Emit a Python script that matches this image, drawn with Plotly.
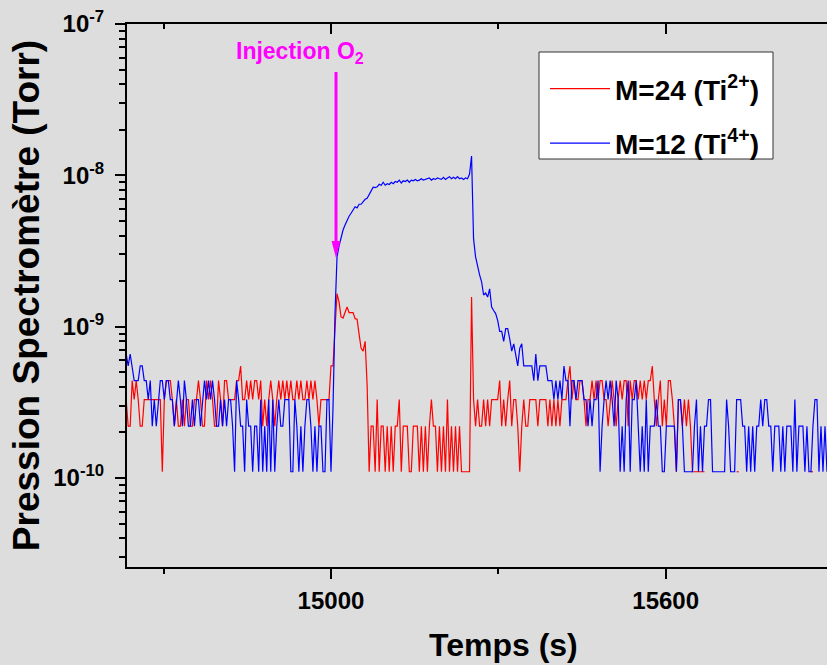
import plotly.graph_objects as go

# ---------------- data ----------------
UNIT = 1.1e-10        # spectrometer reading quantum (Torr): noisy parts are counts of it
T_INJ = 15000.0       # O2 injection time (s)
DT = 3.6              # sampling interval (s)

# M=12 (Ti4+) -- blue
m12_before = [6, 5, 6, 5, 4, 4, 4, 5, 5, 4, 4, 3, 4, 2, 3, 2, 3, 4, 4, 3,
              4, 4, 3, 3, 2, 3, 4, 3, 2, 4, 3, 2, 2, 3, 2, 3, 3, 2, 3, 4,
              3, 4, 3, 4, 3, 2, 2, 3, 2,
              3, 2, 3, 3, 2, 1, 4, 3, 2, 2, 1, 3, 2, 2, 1, 2, 2, 1, 3, 1,
              2, 1, 3, 1, 3, 1, 2, 3, 2, 2, 3, 3, 3, 1, 1, 3, 2, 1, 2, 1,
              2, 3, 3, 2, 1, 2, 1, 2, 2, 1, 1, 3, 3]
m12_rise = [1.1e-10, 2.9e-10, 1.22e-9, 2.89e-9, 3.41e-9, 3.91e-9, 4.35e-9, 4.69e-9, 5.06e-9, 5.37e-9,
            5.62e-9, 5.89e-9, 6.2e-9, 6.1e-9, 6.44e-9, 6.44e-9, 6.74e-9, 6.95e-9, 7.05e-9, 7.5e-9,
            8.0e-9, 8.34e-9, 8.3e-9, 8.4e-9, 8.73e-9, 8.6e-9, 9.0e-9, 8.6e-9, 8.8e-9, 8.7e-9,
            9.0e-9, 8.8e-9, 9.1e-9, 9.0e-9, 9.3e-9, 8.9e-9, 9.2e-9, 9.1e-9, 9.3e-9, 9.0e-9,
            9.3e-9, 9.2e-9, 9.4e-9, 9.2e-9, 9.3e-9, 9.5e-9, 9.3e-9, 9.4e-9, 9.4e-9, 9.6e-9,
            9.3e-9, 9.5e-9, 9.4e-9, 9.6e-9, 9.5e-9, 9.4e-9, 9.7e-9, 9.4e-9, 9.6e-9, 9.8e-9,
            9.5e-9, 9.7e-9, 9.5e-9, 9.8e-9, 9.5e-9, 9.6e-9, 9.4e-9, 9.6e-9, 9.5e-9, 1.02e-8]
m12_peak = [1.34e-8]
m12_decay = [3.8e-9, 2.89e-9, 2.48e-9, 2.2e-9, 1.98e-9, 1.62e-9, 1.67e-9, 1.57e-9, 1.78e-9, 1.35e-9,
             1.28e-9, 1.22e-9, 1.1e-9, 9.3e-10, 9.3e-10, 8.0e-10, 9.7e-10, 9.7e-10, 8.3e-10, 6.9e-10,
             7.7e-10, 6.6e-10, 5.5e-10, 7.2e-10, 7.7e-10, 5.5e-10, 5.5e-10, 5.5e-10, 5.5e-10, 5.5e-10,
             4.4e-10, 6.6e-10, 4.4e-10, 5.5e-10, 5.5e-10, 5.5e-10, 5.5e-10, 4.4e-10, 4.4e-10, 4.4e-10,
             3.3e-10, 4.4e-10, 3.3e-10, 4.4e-10, 3.3e-10, 5.5e-10, 4.4e-10]
m12_tail = [4, 2, 4, 4, 3, 4, 4, 4, 3, 3, 2, 3, 2, 3, 3, 4, 1, 2, 3, 4,
            3, 4, 3, 2, 4, 3, 1, 2, 1, 3, 4, 1, 3, 3, 4, 2, 1, 2, 1,
            3, 1, 2, 2, 2, 3, 2, 2, 1, 1, 2, 2, 2, 2, 2, 1, 3, 3, 2, 1,
            1, 1, 1, 1, 2, 3, 1, 2, 1, 2, 2, 3, 3, 1, 1, 1, 1, 1, 1, 1,
            3, 2, 1, 1, 1, 3, 3, 3, 2, 2, 1, 2, 1, 2, 1, 2, 2, 3, 2, 3,
            3, 2, 2, 1, 2, 2, 2, 1, 2, 1, 2, 2, 2, 1, 3, 1, 2, 2, 2, 1,
            2, 1, 1, 2, 3, 3, 1, 2, 1, 2, 1, 2]

# M=24 (Ti2+) -- red  (0 = below detection, not drawn)
m24_before = [3, 2, 2, 4, 3, 4, 3, 2, 2, 3, 3, 3, 3, 3, 3, 3, 3, 3, 1, 3,
              4, 4, 4, 3, 2, 3, 2, 2, 3, 2, 3, 3, 2, 2, 3, 3, 4, 3, 2, 2,
              4, 3, 4, 3, 2, 2, 4, 3, 2, 4, 4, 3,
              3, 3, 3, 4, 4, 5, 3, 3, 4, 3, 4, 3, 4, 4, 3, 4, 2, 3, 2, 3,
              4, 3, 2, 3, 4, 3, 4, 3, 4, 3, 4, 3, 3, 4, 3, 4, 3, 3, 4, 3,
              4, 3, 4, 3, 2, 3, 3, 3, 3, 3]
m24_burst = [5.5e-10, 5.5e-10, 9.7e-10, 1.65e-9, 1.46e-9, 1.16e-9, 1.14e-9, 1.26e-9, 1.35e-9, 1.24e-9,
             1.24e-9, 1.24e-9, 1.13e-9, 1.12e-9, 8.9e-10, 7.2e-10, 6.9e-10, 8.0e-10, 4.1e-10]
m24_low = [1, 2, 2, 1, 3, 1, 2, 2, 1, 2, 1, 2, 1, 2, 2, 3, 1, 2, 2, 2,
           1, 1, 2, 2, 2, 1, 2, 1, 2, 1, 2, 3, 2, 2, 1, 2, 1, 2, 1, 3,
           1, 2, 1, 2, 1, 2, 1, 1, 1, 1, 1]
m24_spike = [1.57e-9]
m24_after = [3, 2, 3, 2, 2, 3, 2, 3, 2, 3, 3, 3, 3, 4, 2, 3, 2, 3, 4, 2,
             3, 3, 2, 1, 2, 3, 2, 2, 3, 3, 3, 3, 2, 3, 3, 3, 3, 2, 3, 2,
             3, 2, 3, 2, 3, 3, 3, 4, 5, 3, 4, 3, 3, 4, 4, 3, 2, 3, 3, 4,
             3, 4, 3, 4, 4, 3, 3, 2, 3, 4, 3, 2, 3, 4, 3, 4, 4, 2, 4, 3,
             4, 4, 3, 4, 3, 4, 3, 4, 4, 5, 3, 2, 3, 4, 2, 3, 2, 4, 4, 3,
             2, 1, 3, 3, 2, 3, 2, 3, 2, 1, 1, 1, 1, 1, 1, 1,
             0, 0, 0, 0, 0, 0, 0, 0, 0, 0, 0, 0, 0, 0, 0, 1, 1, 0, 0, 0,
             0, 0, 0, 0, 0, 0, 0, 0, 0, 0, 0, 0, 0, 0, 0, 0, 0, 0, 0, 0,
             0, 0, 0, 0, 0, 0, 0, 0, 0, 0, 0, 0, 1, 1, 0, 0, 0, 0, 0, 0,
             0, 0]

NAMES = ["M=24 (Ti<sup>2+</sup>)", "M=12 (Ti<sup>4+</sup>)"]
Y_TICKS = [1e-10, 1e-9, 1e-8, 1e-7]
Y_TICKTEXT = ["10<sup>-10</sup>", "10<sup>-9</sup>", "10<sup>-8</sup>", "10<sup>-7</sup>"]
Y_MINOR = [k * 10.0 ** e for e in range(-11, -7) for k in range(2, 10)]
X_TICKS = [15000, 15600]
X_TICKTEXT = ["15000", "15600"]
X_MINOR = [14700, 15300]
X_RANGE = [14634.3, 15889.2]
Y_RANGE = [-10.588, -7.0]

# ---------------- build series ----------------
def counts(seq):
    return [k * UNIT if k > 0 else None for k in seq]

def t_before(n):
    return [T_INJ - DT * (n - k) for k in range(n)]

def t_after(n):
    return [T_INJ + DT * k for k in range(n)]

b_pre = counts(m12_before)
b_post = m12_rise + m12_peak + m12_decay + counts(m12_tail)
blue_t = t_before(len(b_pre)) + t_after(len(b_post))
blue_y = b_pre + b_post

r_pre = counts(m24_before)
r_post = m24_burst + counts(m24_low) + m24_spike + counts(m24_after)
red_t = t_before(len(r_pre)) + t_after(len(r_post))
red_y = r_pre + r_post

# ---------------- figure ----------------
FONT = "Liberation Sans, Arial, sans-serif"
BG = "#dddddd"
MAGENTA = "#ff00ff"
W, H = 827, 665
L, R, T, B = 127, 0, 24, 98
PW, PH = W - L - R, H - T - B


def px(xpix):   # page pixel -> paper fraction (x)
    return (xpix - L) / PW


def py(ypix):   # page pixel -> paper fraction (y)
    return (H - B - ypix) / PH


fig = go.Figure()
fig.add_trace(go.Scatter(x=red_t, y=red_y, mode="lines", name=NAMES[0], legendgroup="a",
                         line=dict(color="#ff0000", width=1.2)))
fig.add_trace(go.Scatter(x=blue_t, y=blue_y, mode="lines", name=NAMES[1], legendgroup="b",
                         line=dict(color="#0000ff", width=1.2)))
# empty trace so that the top (mirror) axis with its inward ticks is drawn
fig.add_trace(go.Scatter(x=[], y=[], xaxis="x2", yaxis="y", showlegend=False, hoverinfo="skip"))

bold = dict(family=FONT, color="black", weight="bold")

fig.update_layout(
    width=W, height=H,
    margin=dict(l=L, r=R, t=T, b=B, autoexpand=False),
    paper_bgcolor=BG, plot_bgcolor=BG,
    font=dict(family=FONT, color="black"),
    hovermode=False,
    legend=dict(x=px(545), y=py(64), xanchor="left", yanchor="top",
                bgcolor="rgba(0,0,0,0)", borderwidth=0,
                font=dict(size=28, **bold), itemwidth=60, tracegroupgap=15,
                traceorder="grouped"),
    xaxis=dict(range=X_RANGE, tickmode="array", tickvals=X_TICKS, ticktext=X_TICKTEXT,
               showgrid=False, zeroline=False, showline=True, linecolor="black", linewidth=2,
               mirror=True, ticks="outside", ticklen=10, tickwidth=2, tickcolor="black",
               tickfont=dict(size=24, **bold), ticklabelstandoff=1,
               minor=dict(tickvals=X_MINOR, ticks="outside", ticklen=5, tickwidth=2,
                          tickcolor="black", showgrid=False)),
    xaxis2=dict(range=X_RANGE, overlaying="x", side="top", anchor="y", tickmode="array",
                tickvals=X_TICKS, showticklabels=False, showgrid=False, zeroline=False,
                showline=False, ticks="inside", ticklen=10, tickwidth=2, tickcolor="black",
                minor=dict(tickvals=X_MINOR, ticks="inside", ticklen=5, tickwidth=2,
                           tickcolor="black", showgrid=False)),
    yaxis=dict(type="log", range=Y_RANGE, tickmode="array", tickvals=Y_TICKS, ticktext=Y_TICKTEXT,
               showgrid=False, zeroline=False, showline=True, linecolor="black", linewidth=2,
               mirror=False, ticks="outside", ticklen=10, tickwidth=2, tickcolor="black",
               tickfont=dict(size=24, **bold), ticklabelstandoff=6,
               minor=dict(tickvals=Y_MINOR, ticks="outside", ticklen=6, tickwidth=2,
                          tickcolor="black", showgrid=False),
               title=dict(text="Pression Spectromètre (Torr)", font=dict(size=37, **bold), standoff=2)),
)

# x-axis title (centred as in the original, whose frame runs past the right edge)
fig.add_annotation(xref="paper", yref="paper", x=px(503), y=py(645), text="Temps (s)",
                   showarrow=False, xanchor="center", yanchor="middle",
                   font=dict(size=32, **bold))

# legend frame
fig.add_shape(type="rect", xref="paper", yref="paper", x0=px(539), x1=px(773),
              y0=py(159), y1=py(52), fillcolor="white", line=dict(color="#333333", width=1),
              layer="above")

# injection annotation: label + arrow pointing at the blue rise
ARROW_T = T_INJ + 9
fig.add_annotation(xref="paper", yref="paper", x=px(300), y=py(53),
                   text="Injection O<sub>2</sub>", showarrow=False, xanchor="center", yanchor="middle",
                   font=dict(family=FONT, size=23, color=MAGENTA, weight="bold"))
fig.add_shape(type="line", xref="x", yref="paper", x0=ARROW_T, x1=ARROW_T,
              y0=py(72), y1=py(244), line=dict(color=MAGENTA, width=3))
fig.add_shape(type="path", xref="x", yref="paper",
              path=f"M {ARROW_T - 8},{py(241)} L {ARROW_T + 8},{py(241)} L {ARROW_T},{py(258)} Z",
              fillcolor=MAGENTA, line=dict(width=0))

fig.write_html(
    "out.html",
    config={"displayModeBar": False},
    post_script=("document.body.style.margin='0';"
                 "document.body.style.background='" + BG + "';"
                 "document.documentElement.style.overflow='hidden';"),
)
